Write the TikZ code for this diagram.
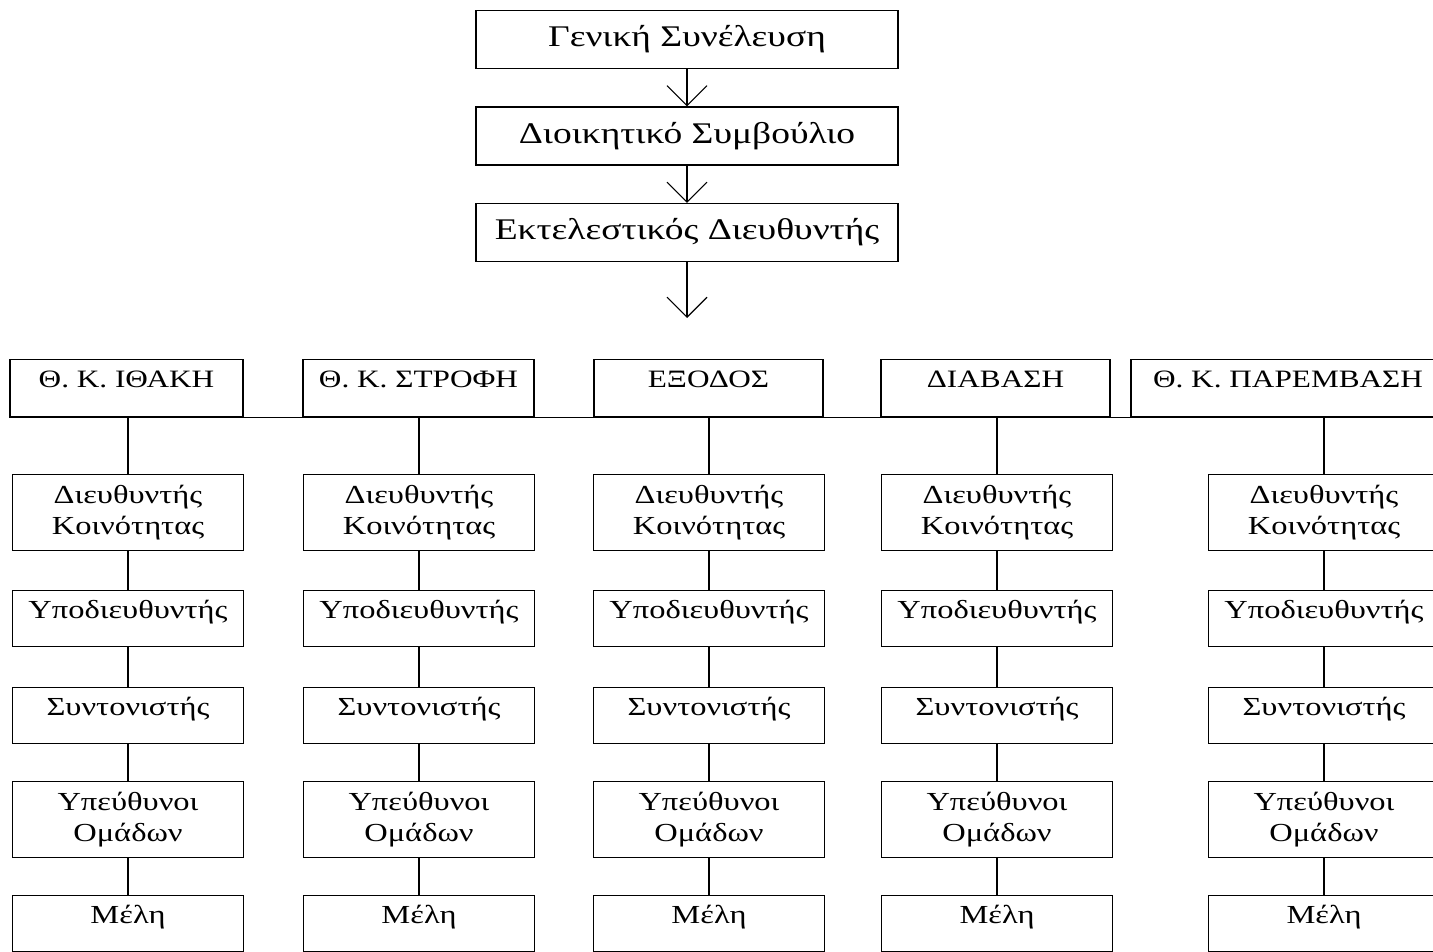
\documentclass[tikz,border=0pt]{standalone}
\usepackage{fontspec}
\setmainfont{Liberation Serif}[FakeStretch=1.25]
\usetikzlibrary{arrows.meta}

\begin{document}
\begin{tikzpicture}[x=1pt,y=-1pt,line width=1.1pt,
    cell/.style={draw,inner sep=0pt,minimum width=231pt},
    box/.style={cell,minimum height=56pt,text height=28pt,text depth=28pt,font=\fontsize{26}{31}\selectfont},
    box2/.style={cell,minimum height=76pt,align=center,font=\fontsize{26}{31}\selectfont},
    unit/.style={cell,minimum height=57pt,text height=28pt,text depth=29pt,font=\fontsize{25}{29}\selectfont},
    head/.style={draw,inner sep=0pt,minimum width=422pt,minimum height=58pt,font=\fontsize{30}{34}\selectfont},
    arr/.style={-{Straight Barb[length=20pt,width=40pt]}}]
\useasboundingbox (0,0) rectangle (1433,952);
% top of the chart
\node[head] (gs) at (687,39.5) {Γενική Συνέλευση};
\node[head] (ds) at (687,136) {Διοικητικό Συμβούλιο};
\node[head] (ed) at (687,232.5) {Εκτελεστικός Διευθυντής};
\coordinate (tip) at (687,318);
\draw[arr] (gs) -- (ds);
\draw[arr] (ds) -- (ed);
\draw[arr] (ed) -- (tip);
% the five communities
\node[unit,minimum width=233pt] (ith) at (126.5,388) {Θ. Κ. ΙΘΑΚΗ};
\node[unit] (str) at (418.5,388) {Θ. Κ. ΣΤΡΟΦΗ};
\node[unit,minimum width=229pt] (exo) at (708.5,388) {ΕΞΟΔΟΣ};
\node[unit,minimum width=229pt] (dia) at (995.5,388) {ΔΙΑΒΑΣΗ};
\node[unit,minimum width=314pt] (par) at (1288,388) {Θ. Κ. ΠΑΡΕΜΒΑΣΗ};
\draw (ith.south west) -- (par.south east);
\foreach \n/\x in {ith/128,str/419,exo/709,dia/997,par/1324} {
    \node[box2] (\n1) at (\x,512.5) {Διευθυντής\\Κοινότητας};
    \node[box] (\n2) at (\x,618.5) {Υποδιευθυντής};
    \node[box] (\n3) at (\x,715.5) {Συντονιστής};
    \node[box2] (\n4) at (\x,819.5) {Υπεύθυνοι\\Ομάδων};
    \node[box] (\n5) at (\x,923.5) {Μέλη};
    \draw (\n1.north) -- (\n1.north |- \n.south);
    \draw (\n1) -- (\n2) -- (\n3) -- (\n4) -- (\n5);
}
\end{tikzpicture}
\end{document}
